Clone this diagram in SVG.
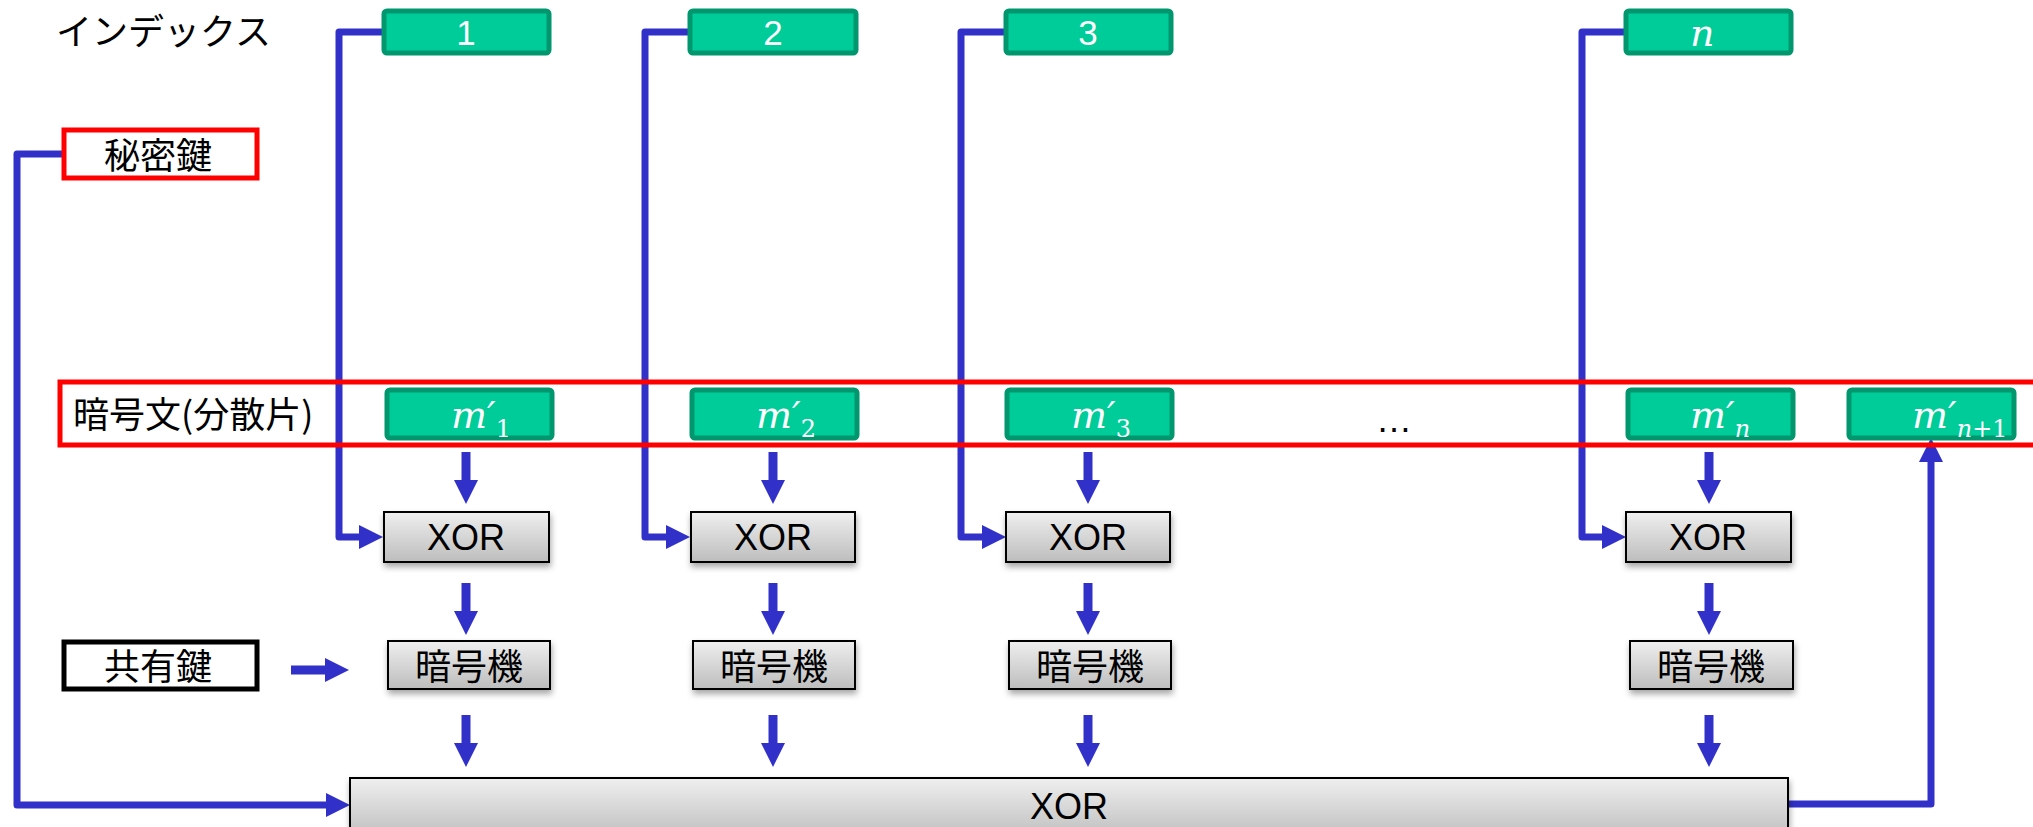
<svg xmlns="http://www.w3.org/2000/svg" width="2033" height="827" viewBox="0 0 2033 827">
  <style>
    .jp { font-family: "Noto Sans CJK JP", "Noto Sans CJK SC", sans-serif; font-size: 36px; fill: #000; }
    .lat { font-family: "Liberation Sans", Arial, sans-serif; font-size: 36px; fill: #000; }
    .num { font-family: "Liberation Sans", Arial, sans-serif; font-size: 35px; fill: #fff; text-anchor: middle; }
    .math { font-family: "DejaVu Serif", "Liberation Serif", serif; font-style: italic; font-size: 38px; fill: #fff; }
    .sub { font-size: 24px; }
    .up { font-style: normal; }
    .green { fill: #00CC99; stroke: #00966E; stroke-width: 5; }
    .gray { fill: url(#grayGrad); stroke: #000; stroke-width: 2; filter: url(#shadow); }
    .key { fill: #fff; stroke-width: 5; }
    .wire { fill: none; stroke: #3131C9; stroke-width: 7; stroke-linejoin: round; }
    .flow { fill: none; stroke: #3131C9; stroke-width: 9; }
  </style>
  <defs>
    <linearGradient id="grayGrad" x1="0" y1="0" x2="0" y2="1">
      <stop offset="0" stop-color="#EFEFEF"/>
      <stop offset="1" stop-color="#BDBDBD"/>
    </linearGradient>
    <filter id="shadow" x="-10%" y="-20%" width="120%" height="160%">
      <feDropShadow dx="1" dy="4" stdDeviation="3" flood-color="#000" flood-opacity="0.35"/>
    </filter>
    <marker id="head" markerUnits="userSpaceOnUse" markerWidth="24" markerHeight="24" refX="0" refY="12" orient="auto">
      <path d="M0,0 L24,12 L0,24 z" fill="#3131C9"/>
    </marker>
  </defs>

  <!-- connectors -->
  <g id="connectors">
    <!-- index lines into the per-share XOR -->
    <path class="wire" d="M383 32 H339 V537 H359" marker-end="url(#head)"/>
    <path class="wire" d="M689 32 H645 V537 H666" marker-end="url(#head)"/>
    <path class="wire" d="M1005 32 H961 V537 H982" marker-end="url(#head)"/>
    <path class="wire" d="M1625 32 H1582 V537 H1602" marker-end="url(#head)"/>
    <!-- secret key into the final XOR -->
    <path class="wire" d="M62 154 H17 V805 H326" marker-end="url(#head)"/>
    <!-- final XOR result to the last share -->
    <path class="wire" d="M1788 804 H1931 V462" marker-end="url(#head)"/>
    <!-- shared key into the ciphers -->
    <path class="flow" d="M291 670 H325" stroke-width="8" marker-end="url(#head)"/>
    <!-- share -> XOR -->
    <path class="flow" d="M466 452 V480" marker-end="url(#head)"/>
    <path class="flow" d="M773 452 V480" marker-end="url(#head)"/>
    <path class="flow" d="M1088 452 V480" marker-end="url(#head)"/>
    <path class="flow" d="M1709 452 V480" marker-end="url(#head)"/>
    <!-- XOR -> cipher -->
    <path class="flow" d="M466 583 V611" marker-end="url(#head)"/>
    <path class="flow" d="M773 583 V611" marker-end="url(#head)"/>
    <path class="flow" d="M1088 583 V611" marker-end="url(#head)"/>
    <path class="flow" d="M1709 583 V611" marker-end="url(#head)"/>
    <!-- cipher -> final XOR -->
    <path class="flow" d="M466 715 V743" marker-end="url(#head)"/>
    <path class="flow" d="M773 715 V743" marker-end="url(#head)"/>
    <path class="flow" d="M1088 715 V743" marker-end="url(#head)"/>
    <path class="flow" d="M1709 715 V743" marker-end="url(#head)"/>
  </g>

  <!-- labels -->
  <g id="index-label">
    <text class="jp" x="56" y="45" font-size="37">インデックス</text>
  </g>

  <!-- index boxes -->
  <g id="idx-1"><rect class="green" x="384" y="11" width="165" height="42" rx="3"/><text class="num" x="466" y="45">1</text></g>
  <g id="idx-2"><rect class="green" x="690" y="11" width="166" height="42" rx="3"/><text class="num" x="773" y="45">2</text></g>
  <g id="idx-3"><rect class="green" x="1006" y="11" width="165" height="42" rx="3"/><text class="num" x="1088" y="45">3</text></g>
  <g id="idx-n"><rect class="green" x="1626" y="11" width="165" height="42" rx="3"/><text class="math" x="1690" y="46" font-size="40">n</text></g>

  <!-- secret key -->
  <g id="secret-key">
    <rect class="key" x="64" y="130" width="193" height="48" stroke="#FF0000"/>
    <text class="jp" x="104" y="169">秘密鍵</text>
  </g>

  <!-- shares -->
  <g id="share-1"><rect class="green" x="387" y="390" width="165" height="48" rx="3"/>
    <text class="math" x="451" y="428">m′<tspan class="sub up" dy="9">1</tspan></text></g>
  <g id="share-2"><rect class="green" x="692" y="390" width="165" height="48" rx="3"/>
    <text class="math" x="756" y="428">m′<tspan class="sub up" dy="9">2</tspan></text></g>
  <g id="share-3"><rect class="green" x="1007" y="390" width="165" height="48" rx="3"/>
    <text class="math" x="1071" y="428">m′<tspan class="sub up" dy="9">3</tspan></text></g>
  <g id="share-n"><rect class="green" x="1628" y="390" width="165" height="48" rx="3"/>
    <text class="math" x="1690" y="428">m′<tspan class="sub" dy="9">n</tspan></text></g>
  <g id="share-n1"><rect class="green" x="1849" y="390" width="165" height="48" rx="3"/>
    <text class="math" x="1912" y="428">m′<tspan class="sub" dy="9">n</tspan><tspan class="sub up">+1</tspan></text></g>
  <g id="ellipsis"><text class="lat" x="1376" y="432">…</text></g>

  <!-- ciphertext frame -->
  <g id="ciphertext">
    <rect x="60" y="382" width="2000" height="63" fill="none" stroke="#FF0000" stroke-width="5"/>
    <text class="jp" x="73" y="428">暗号文(分散片)</text>
  </g>

  <!-- per-share XOR -->
  <g id="xor-1"><rect class="gray" x="384" y="512" width="165" height="50"/><text class="lat" x="466" y="550" text-anchor="middle">XOR</text></g>
  <g id="xor-2"><rect class="gray" x="691" y="512" width="164" height="50"/><text class="lat" x="773" y="550" text-anchor="middle">XOR</text></g>
  <g id="xor-3"><rect class="gray" x="1006" y="512" width="164" height="50"/><text class="lat" x="1088" y="550" text-anchor="middle">XOR</text></g>
  <g id="xor-n"><rect class="gray" x="1626" y="512" width="165" height="50"/><text class="lat" x="1708" y="550" text-anchor="middle">XOR</text></g>

  <!-- shared key -->
  <g id="shared-key">
    <rect class="key" x="64" y="642" width="193" height="47" stroke="#000"/>
    <text class="jp" x="104" y="680">共有鍵</text>
  </g>

  <!-- ciphers -->
  <g id="cipher-1"><rect class="gray" x="388" y="641" width="162" height="48"/><text class="jp" x="469" y="680" text-anchor="middle">暗号機</text></g>
  <g id="cipher-2"><rect class="gray" x="693" y="641" width="162" height="48"/><text class="jp" x="774" y="680" text-anchor="middle">暗号機</text></g>
  <g id="cipher-3"><rect class="gray" x="1009" y="641" width="162" height="48"/><text class="jp" x="1090" y="680" text-anchor="middle">暗号機</text></g>
  <g id="cipher-n"><rect class="gray" x="1630" y="641" width="163" height="48"/><text class="jp" x="1711" y="680" text-anchor="middle">暗号機</text></g>

  <!-- final XOR -->
  <g id="xor-final"><rect class="gray" x="350" y="778" width="1438" height="62"/><text class="lat" x="1069" y="819" text-anchor="middle">XOR</text></g>
</svg>
